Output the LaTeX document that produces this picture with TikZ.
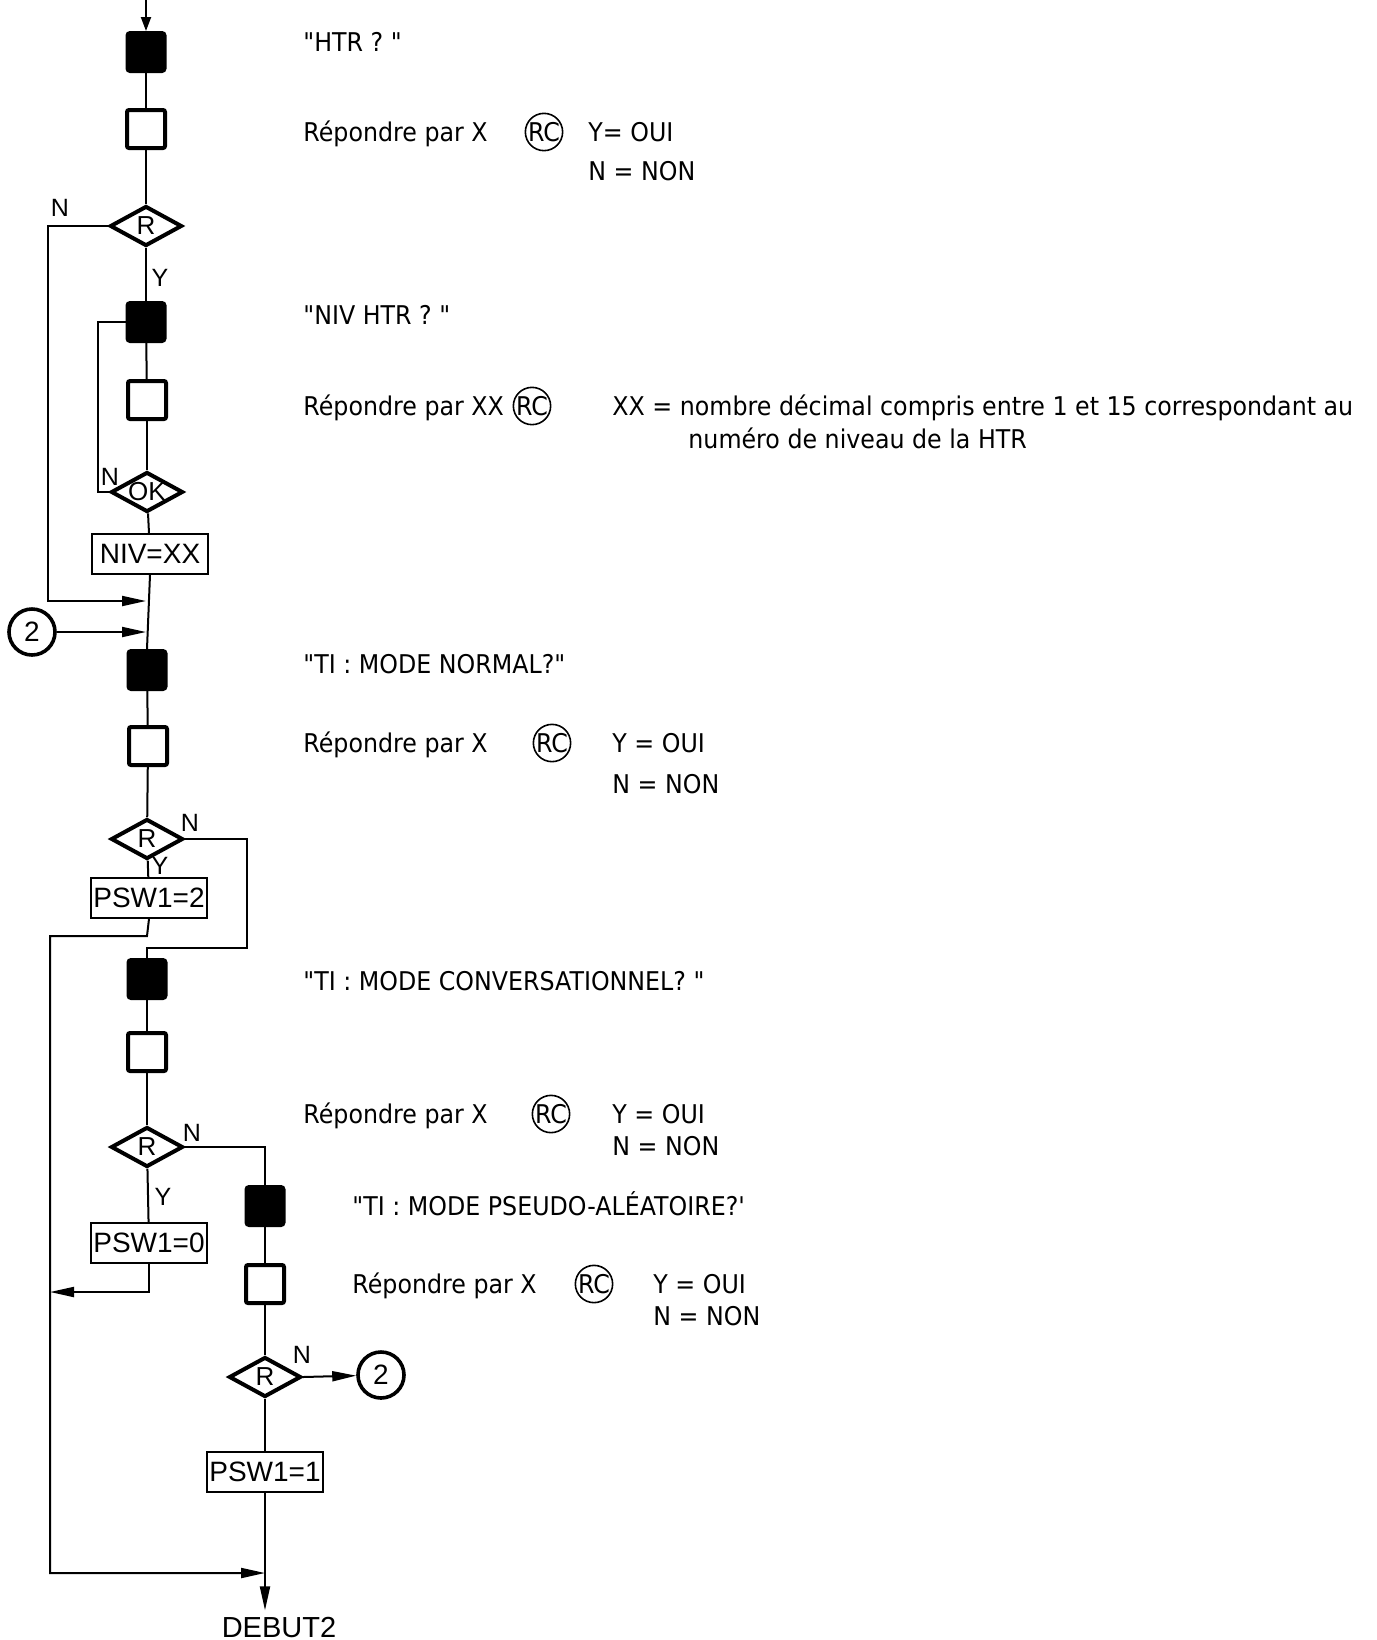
\documentclass[tikz,border=0pt]{standalone}
\usepackage{fontspec}
\newfontfamily\txtfont{DejaVu Sans}[FakeStretch=0.92]
\newfontfamily\chartfont{Liberation Sans}
\usetikzlibrary{shapes.geometric,arrows.meta}
\begin{document}
\begin{tikzpicture}[x=0.5pt,y=-0.5pt,
  blk/.style={draw, fill=black, line width=1.5pt, rounded corners=1.5pt, minimum width=19pt, minimum height=19.5pt, inner sep=0pt},
  wht/.style={draw, line width=2pt, rounded corners=1pt, minimum width=19pt, minimum height=19pt, inner sep=0pt},
  dec/.style={diamond, draw, line width=2pt, inner sep=0pt, minimum width=36pt, minimum height=20pt, aspect=1.75, font=\chartfont\fontsize{13}{13}\selectfont},
  proc/.style={draw, line width=1pt, inner sep=0pt, minimum width=58pt, minimum height=20pt, font=\chartfont\fontsize{14}{14}\selectfont},
  conn/.style={circle, draw, line width=1.8pt, minimum size=23pt, inner sep=0pt, font=\chartfont\fontsize{14}{14}\selectfont},
  lbl/.style={font=\chartfont\fontsize{12.5}{12.5}\selectfont, inner sep=0pt},
  line/.style={line width=1pt},
  arr/.style={line width=1pt, -{Triangle[length=12pt,width=5pt]}},
  txt/.style={anchor=base west, inner sep=0pt, font=\txtfont\fontsize{12.9}{15}\selectfont},
  rc/.style={circle, draw, line width=0.8pt, minimum size=18pt, inner sep=0pt, font=\txtfont\fontsize{12.9}{15}\selectfont}
]
\useasboundingbox (0,0) rectangle (1377,1640);

% ---------- column 1 ----------
\coordinate (top) at (146,0);
\node[blk] (b1) at (146,52) {};
\node[wht] (w1) at (146,129) {};
\node[dec] (d1) at (146,226) {R};
\node[blk] (b2) at (146,322) {};
\node[wht] (w2) at (147,400) {};
\node[dec] (d2) at (147,492) {OK};
\node[proc] (niv) at (150,554) {NIV=XX};
\coordinate (j1) at (146,601);
\coordinate (j2) at (146,632);
\node[conn] (c2a) at (32,632) {2};
\node[blk] (b3) at (147,670) {};
\node[wht] (w3) at (148,746) {};
\node[dec] (d3) at (147,839) {R};
\node[proc] (psw2) at (149,898) {PSW1=2};
\node[blk] (b4) at (147,979) {};
\node[wht] (w4) at (147,1052) {};
\node[dec] (d4) at (147,1147) {R};
\node[proc] (psw0) at (149,1243) {PSW1=0};
% ---------- column 2 ----------
\node[blk] (b5) at (265,1206) {};
\node[wht] (w5) at (265,1284) {};
\node[dec] (d5) at (265,1377) {R};
\node[conn] (c2b) at (381,1375) {2};
\node[proc] (psw1) at (265,1472) {PSW1=1};
\node[lbl, font=\chartfont\fontsize{14.5}{14.5}\selectfont] (deb) at (279,1627) {DEBUT2};
\coordinate (j5) at (265,1573);

% branch labels
\node[lbl] (n1) at (60,208) {N};
\node[lbl] (y1) at (160,278) {Y};
\node[lbl] (n2) at (110,477) {N};
\node[lbl] (n3) at (190,823) {N};
\node[lbl] (y3) at (160,866) {Y};
\node[lbl] (n4) at (192,1133) {N};
\node[lbl] (y4) at (163,1197) {Y};
\node[lbl] (n5) at (302,1355) {N};

% ---------- connectors ----------
\draw[line width=1pt, -{Triangle[length=7pt,width=5pt]}] (top) -- (b1);
\draw[line] (b1) -- (w1);
\draw[line] (w1) -- (d1);
\draw[line] (d1) -- (b2);
\draw[line] (b2) -- (w2);
\draw[line] (w2) -- (d2);
\draw[line] (d2) -- (niv);
\draw[line] (niv.south) -- (b3.north);
\coordinate (nl1) at (48,226);
\draw[arr] (d1.west) -- (nl1) |- (j1);
\coordinate (nl2) at (98,492);
\draw[line] (d2.west) -- (nl2) |- (b2.west);
\draw[arr] (c2a) -- (j2);
\draw[line] (b3) -- (w3);
\draw[line] (w3) -- (d3);
\draw[line] (d3) -- (psw2);
\coordinate (nr3) at (247,948);
\coordinate (j3) at (147,948);
\draw[line] (d3.east) -| (nr3) -- (j3) -- (b4.north);
\coordinate (y3a) at (147,936);
\coordinate (lft) at (50,936);
\draw[arr] (psw2.south) -- (y3a) -- (lft) |- (j5);
\draw[line] (b4) -- (w4);
\draw[line] (w4) -- (d4);
\draw[line] (d4) -- (psw0);
\coordinate (j4) at (50,1292);
\draw[arr] (psw0.south) |- (j4);
\draw[line] (d4.east) -| (b5.north);
\draw[line] (b5) -- (w5);
\draw[line] (w5) -- (d5);
\draw[arr] (d5.east) -- (c2b);
\draw[line] (d5) -- (psw1);
\draw[arr, shorten >=3pt] (psw1.south) -- (psw1.south |- deb.north);

% ---------- texts ----------
\node[txt] (t1) at (303,51) {"HTR ? "};
\node[txt] (t2) at (303,141) {Répondre par X};
\node[rc] (rc1) at (544,132) {RC};
\node[txt] (t2y) at (588,141) {Y= OUI};
\node[txt] (t2n) at (588,180) {N = NON};
\node[txt] (t3) at (303,324) {"NIV HTR ? "};
\node[txt] (t4) at (303,415) {Répondre par XX};
\node[rc] (rc2) at (532,406) {RC};
\node[txt] (t4a) at (612,415) {XX = nombre décimal compris entre 1 et 15 correspondant au};
\node[txt] (t4b) at (688,448) {numéro de niveau de la HTR};
\node[txt] (t5) at (303,673) {"TI : MODE NORMAL?"};
\node[txt] (t6) at (303,752) {Répondre par X};
\node[rc] (rc3) at (552,743) {RC};
\node[txt] (t6y) at (612,752) {Y = OUI};
\node[txt] (t6n) at (612,793) {N = NON};
\node[txt] (t7) at (303,990) {"TI : MODE CONVERSATIONNEL? "};
\node[txt] (t8) at (303,1123) {Répondre par X};
\node[rc] (rc4) at (551,1114) {RC};
\node[txt] (t8y) at (612,1123) {Y = OUI};
\node[txt] (t8n) at (612,1155) {N = NON};
\node[txt] (t9) at (352,1215) {"TI : MODE PSEUDO-ALÉATOIRE?'};
\node[txt] (t10) at (352,1293) {Répondre par X};
\node[rc] (rc5) at (594,1284) {RC};
\node[txt] (t10y) at (653,1293) {Y = OUI};
\node[txt] (t10n) at (653,1325) {N = NON};
\end{tikzpicture}
\end{document}
